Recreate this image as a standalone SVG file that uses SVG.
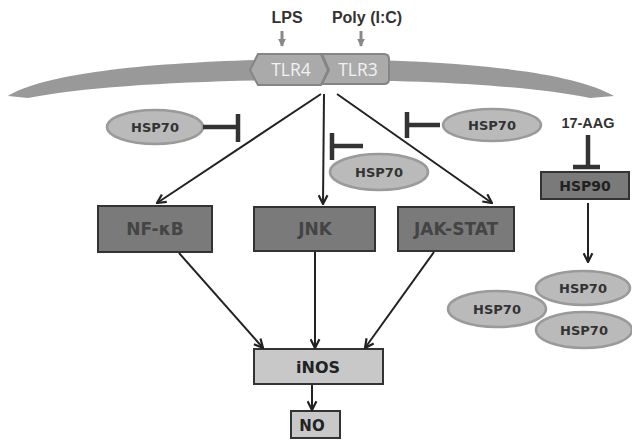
<svg xmlns="http://www.w3.org/2000/svg" width="632" height="441" viewBox="0 0 632 441">
<style>
.lbl{font-family:"Liberation Sans",Arial,sans-serif;font-weight:bold;fill:#333;text-anchor:middle}
.v{font-family:"DejaVu Sans",Verdana,sans-serif;font-weight:bold;text-anchor:middle}
.tlr{font-family:"Open Sans","DejaVu Sans",sans-serif;font-size:17.5px;fill:#f2f2f2;text-anchor:middle}
.ell{fill:#bababa;stroke:#9a9a9a;stroke-width:2.5}
.dark{fill:#7a7a7a;stroke:#333;stroke-width:2}
.light{fill:#c8c8c8;stroke:#333;stroke-width:2}
.line{stroke:#222;stroke-width:2;fill:none}
.inh{stroke:#333;stroke-width:4.5;fill:none}
.gin{stroke:#888;stroke-width:3;fill:none}
</style>
<defs>
<marker id="arr" viewBox="0 0 10 10" refX="9" refY="5" markerWidth="11" markerHeight="11" markerUnits="userSpaceOnUse" orient="auto">
<path d="M1,1 L9,5 L1,9" fill="none" stroke="#222" stroke-width="2"/>
</marker>
<marker id="garr" viewBox="0 0 10 10" refX="9" refY="5" markerWidth="8" markerHeight="8" markerUnits="userSpaceOnUse" orient="auto">
<path d="M0,0 L10,5 L0,10 Z" fill="#888"/>
</marker>
</defs>
<g id="membrane">
<path d="M 8 96 C 50 70 180 60 316 59 C 452 60 570 70 614 96 L 590 98 C 530 86 430 80 316 80 C 200 80 90 86 28 98 Z" fill="#999"/>
</g>
<g id="tlr4">
<polygon points="250,70 258,54 321,54 328,70 321,85 258,85" fill="#aaa" stroke="#858585" stroke-width="2"/>
<text class="tlr" x="291" y="76">TLR4</text>
</g>
<g id="tlr3">
<path d="M 322 54 L 384 54 Q 389 54 389 59 L 389 79 Q 389 84 384 84 L 322 84 L 329 70 Z" fill="#aaa" stroke="#858585" stroke-width="2"/>
<text class="tlr" x="358" y="76">TLR3</text>
</g>
<g id="lps">
<text class="lbl" x="287" y="23" font-size="16">LPS</text>
</g>
<g id="polyic">
<text class="lbl" x="367" y="23" font-size="16">Poly (I:C)</text>
</g>
<g id="hsp70-left">
<ellipse class="ell" cx="155" cy="127" rx="48" ry="17"/>
<text class="v" x="155" y="132" font-size="13" fill="#333">HSP70</text>
</g>
<g id="hsp70-mid">
<ellipse class="ell" cx="379" cy="172" rx="49" ry="18"/>
<text class="v" x="379" y="177" font-size="13" fill="#333">HSP70</text>
</g>
<g id="hsp70-right">
<ellipse class="ell" cx="492" cy="125" rx="49" ry="16"/>
<text class="v" x="492" y="130" font-size="13" fill="#333">HSP70</text>
</g>
<g id="aag">
<text class="lbl" x="588" y="128" font-size="14.5">17-AAG</text>
</g>
<g id="hsp90">
<rect class="dark" x="541" y="172" width="88" height="27" fill="#858585"/>
<text class="v" x="585" y="191" font-size="14" fill="#222">HSP90</text>
</g>
<g id="nfkb">
<rect class="dark" x="98" y="206" width="114" height="46"/>
<text class="v" x="155" y="235" font-size="17" fill="#444">NF-κB</text>
</g>
<g id="jnk">
<rect class="dark" x="254" y="207" width="121" height="44"/>
<text class="v" x="315" y="235" font-size="17" fill="#444">JNK</text>
</g>
<g id="jakstat">
<rect class="dark" x="398" y="207" width="116" height="44"/>
<text class="v" x="456" y="235" font-size="17" fill="#444">JAK-STAT</text>
</g>
<g id="hsp70-c1">
<ellipse class="ell" cx="497" cy="309" rx="49" ry="18"/>
<text class="v" x="497" y="314" font-size="13" fill="#333">HSP70</text>
</g>
<g id="hsp70-c2">
<ellipse class="ell" cx="583" cy="288" rx="47" ry="17"/>
<text class="v" x="583" y="293" font-size="13" fill="#333">HSP70</text>
</g>
<g id="hsp70-c3">
<ellipse class="ell" cx="584" cy="330" rx="48" ry="18"/>
<text class="v" x="584" y="335" font-size="13" fill="#333">HSP70</text>
</g>
<g id="inos">
<rect class="light" x="254" y="349" width="129" height="35"/>
<text class="v" x="318" y="373" font-size="16" fill="#222">iNOS</text>
</g>
<g id="no">
<rect class="light" x="291" y="411" width="49" height="27"/>
<text class="v" x="312" y="431" font-size="15" fill="#222">NO</text>
</g>
<g id="connectors">
<line class="gin" x1="282" y1="31" x2="282" y2="46" marker-end="url(#garr)"/>
<line class="gin" x1="361" y1="31" x2="361" y2="46" marker-end="url(#garr)"/>
<line class="line" x1="321" y1="94" x2="157" y2="203" marker-end="url(#arr)"/>
<line class="line" x1="324" y1="94" x2="323" y2="204" marker-end="url(#arr)"/>
<line class="line" x1="337" y1="94" x2="492" y2="203" marker-end="url(#arr)"/>
<line class="line" x1="179" y1="253" x2="263" y2="348" marker-end="url(#arr)"/>
<line class="line" x1="315" y1="252" x2="315" y2="348" marker-end="url(#arr)"/>
<line class="line" x1="434" y1="252" x2="365" y2="348" marker-end="url(#arr)"/>
<line class="line" x1="312" y1="385" x2="312" y2="410" marker-end="url(#arr)"/>
<line class="line" x1="588" y1="203" x2="588" y2="262" marker-end="url(#arr)"/>
<path class="inh" d="M 203 127 L 238 127 M 238 114 L 238 142"/>
<path class="inh" d="M 363 146 L 332 146 M 332 133 L 332 160"/>
<path class="inh" d="M 440 125 L 407 125 M 407 112 L 407 138"/>
<path class="inh" d="M 588 135 L 588 167 M 573 167 L 600 167"/>
</g>
</svg>
